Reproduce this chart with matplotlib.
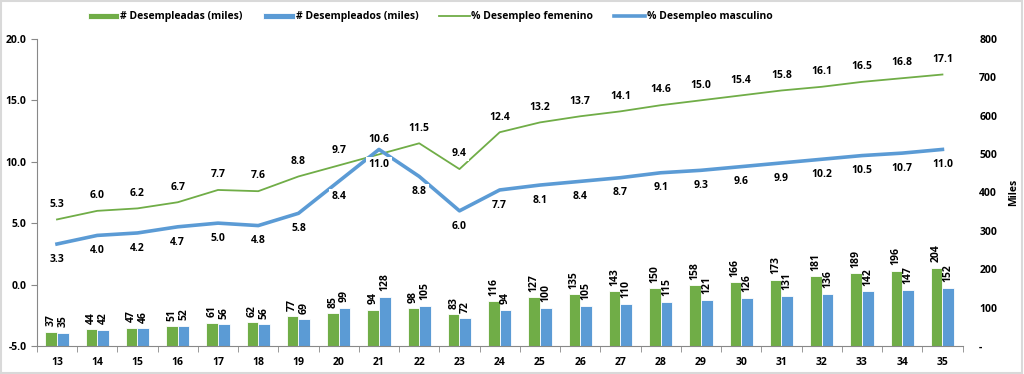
import matplotlib
matplotlib.use("Agg")
import matplotlib.pyplot as plt
import numpy as np

categories = [str(c) for c in range(13, 36)]
desempleadas = [37, 44, 47, 51, 61, 62, 77, 85, 94, 98, 83, 116, 127, 135, 143, 150, 158, 166, 173, 181, 189, 196, 204]
desempleados = [35, 42, 46, 52, 56, 56, 69, 99, 128, 105, 72, 94, 100, 105, 110, 115, 121, 126, 131, 136, 142, 147, 152]
pct_fem = [5.3, 6.0, 6.2, 6.7, 7.7, 7.6, 8.8, 9.7, 10.6, 11.5, 9.4, 12.4, 13.2, 13.7, 14.1, 14.6, 15.0, 15.4, 15.8, 16.1, 16.5, 16.8, 17.1]
pct_mas = [3.3, 4.0, 4.2, 4.7, 5.0, 4.8, 5.8, 8.4, 11.0, 8.8, 6.0, 7.7, 8.1, 8.4, 8.7, 9.1, 9.3, 9.6, 9.9, 10.2, 10.5, 10.7, 11.0]

GREEN = "#70AD47"
BLUE = "#5B9BD5"
plt.rcParams['font.family'] = ['Open Sans', 'DejaVu Sans']
plt.rcParams['font.weight'] = 'bold'
FS = 7.5

fig = plt.figure(figsize=(10.24, 3.74), dpi=100)
fig.patches.append(plt.Rectangle((0.001, 0.002), 0.997, 0.995, transform=fig.transFigure,
                                 fill=False, edgecolor="#D9D9D9", linewidth=1.5))
ax = fig.add_axes([0.036, 0.075, 0.904, 0.821])
axb = ax.twinx()
ax.set_zorder(axb.get_zorder() + 1)
ax.patch.set_visible(False)

x = np.arange(len(categories))
w = 0.29
b1 = axb.bar(x - w / 2, desempleadas, w, color=GREEN, edgecolor="white", linewidth=0.6, label="# Desempleadas (miles)")
b2 = axb.bar(x + w / 2, desempleados, w, color=BLUE, edgecolor="white", linewidth=0.6, label="# Desempleados (miles)")
for xi, v in zip(x, desempleadas):
    axb.annotate(str(v), (xi - w / 2, v), xytext=(0, 4), textcoords="offset points",
                 rotation=90, ha="center", va="bottom", fontsize=FS, fontweight="bold")
for xi, v in zip(x, desempleados):
    axb.annotate(str(v), (xi + w / 2, v), xytext=(0, 4), textcoords="offset points",
                 rotation=90, ha="center", va="bottom", fontsize=FS, fontweight="bold")
axb.set_ylim(0, 800)
axb.set_yticks(range(0, 801, 100))
axb.set_yticklabels(["-"] + [str(v) for v in range(100, 801, 100)])
axb.set_ylabel("Miles", fontsize=FS, fontweight="bold", labelpad=8)

l1, = ax.plot(x, pct_fem, color=GREEN, linewidth=1.3, label="% Desempleo femenino")
l2, = ax.plot(x, pct_mas, color=BLUE, linewidth=2.6, label="% Desempleo masculino")
bbox = dict(boxstyle="square,pad=0.2", facecolor="white", edgecolor="none")
for xi, v in zip(x, pct_fem):
    ax.annotate(f"{v:.1f}", (xi, v), xytext=(0, 7), textcoords="offset points",
                ha="center", va="bottom", fontsize=FS, fontweight="bold", bbox=bbox, zorder=5)
for xi, v in zip(x, pct_mas):
    ax.annotate(f"{v:.1f}", (xi, v), xytext=(0, -7), textcoords="offset points",
                ha="center", va="top", fontsize=FS, fontweight="bold", bbox=bbox, zorder=5)

ax.set_ylim(-5, 20)
ax.set_yticks(np.arange(-5, 20.1, 5))
ax.set_yticklabels([f"{v:.1f}" for v in np.arange(-5, 20.1, 5)])
ax.set_xlim(-0.5, len(categories) - 0.5)
ax.set_xticks(x)
ax.set_xticklabels(categories)
ax.set_xticks(np.arange(-0.5, len(categories), 1), minor=True)
ax.tick_params(axis="x", which="major", length=0, pad=8, labelsize=FS)
ax.tick_params(axis="x", which="minor", length=4, color="#888888")
ax.tick_params(axis="y", length=4, color="#888888", labelsize=FS)
axb.tick_params(axis="y", length=0, labelsize=FS, pad=12)

for a in (ax, axb):
    for s in ("top", "right"):
        a.spines[s].set_visible(False)
    a.spines["left"].set_color("#888888")
    a.spines["bottom"].set_color("#888888")
axb.spines["left"].set_visible(False)
axb.spines["bottom"].set_visible(False)

fig.legend([b1, b2, l1, l2], [b1.get_label(), b2.get_label(), l1.get_label(), l2.get_label()],
           loc="upper center", bbox_to_anchor=(0.42, 0.995), ncol=4, frameon=False, fontsize=FS,
           handlelength=3.0, handleheight=0.5, columnspacing=2.0, handletextpad=0.1)

fig.savefig("out.png", dpi=100)
